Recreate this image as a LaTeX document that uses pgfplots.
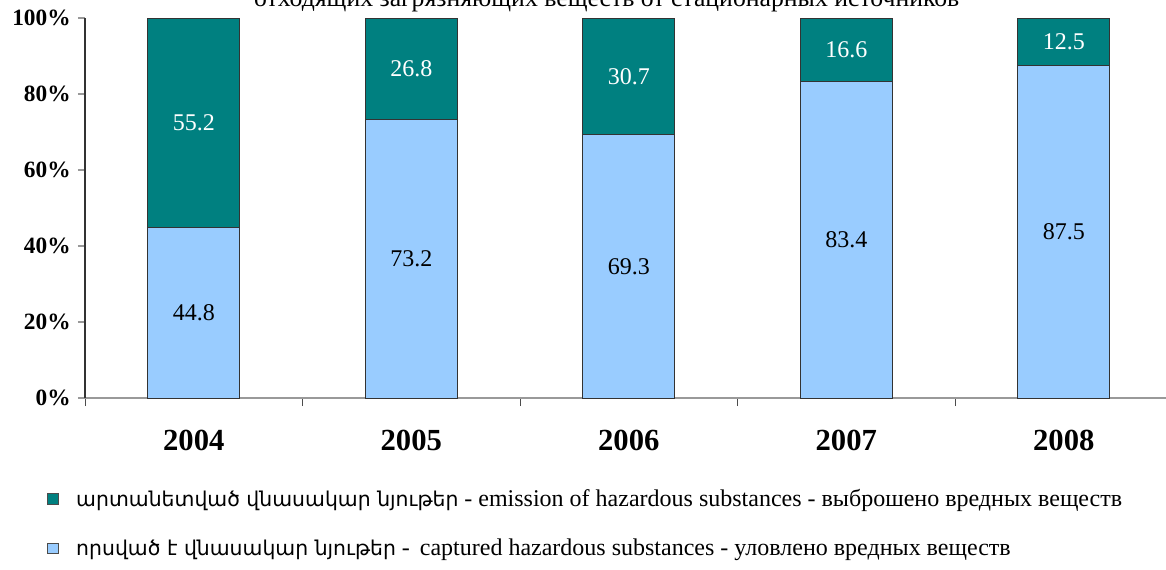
\documentclass[border=0pt]{standalone}
\usepackage{fontspec}
\setmainfont{Liberation Serif}
\newfontfamily\armfont{DejaVu Sans}[Scale=0.85]
\usepackage{pgfplots}
\usepackage{pgfplotstable}
\pgfplotsset{compat=1.18}
\definecolor{tealc}{HTML}{008080}
\definecolor{lblue}{HTML}{99CCFF}
% v = value, c = centre of the segment in the stack
\pgfplotstableread{
x v c
0 44.8 22.4
1 73.2 36.6
2 69.3 34.65
3 83.4 41.7
4 87.5 43.75
}\captured
\pgfplotstableread{
x v c
0 55.2 72.4
1 26.8 86.6
2 30.7 84.65
3 16.6 91.7
4 12.5 93.75
}\emission
\pgfplotsset{common/.style={
  at={(63.75pt,128.25pt)}, anchor=south west,
  scale only axis, width=810.75pt, height=285pt,
  xmin=-0.5, xmax=4.47, ymin=0, ymax=100}}
\begin{document}
\begin{tikzpicture}
\useasboundingbox (0pt,0pt) rectangle (874.5pt,426.75pt);
\begin{axis}[
  common,
  ybar stacked, bar width=69pt,
  axis x line=bottom, axis y line=left,
  axis line style={-},
  x axis line style={draw=gray!80, line width=1pt},
  y axis line style={draw=black!80, line width=0.8pt},
  xtick={0,1,2,3,4},
  xticklabels={2004,2005,2006,2007,2008},
  major x tick style={draw=none},
  minor xtick={-0.5,0.5,1.5,2.5,3.5},
  minor x tick style={draw=black!70, line width=0.6pt},
  minor tick length=6pt,
  tick align=outside,
  ytick={0,20,40,60,80,100},
  yticklabels={0\%,20\%,40\%,60\%,80\%,100\%},
  major y tick style={draw=gray!80, line width=0.8pt},
  major tick length=5.25pt,
  xticklabel style={font=\bfseries\fontsize{23}{23}\selectfont, yshift=-15pt},
  yticklabel style={font=\bfseries\fontsize{17.5}{17.5}\selectfont, xshift=-2pt},
  legend image code/.code={\draw[#1,draw=black!70,line width=0.6pt] (0pt,-4pt) rectangle (8pt,4pt);},
  reverse legend,
  legend style={at={(axis description cs:-0.035,-0.232)}, anchor=north west, draw=none, fill=none,
    font=\fontsize{18}{18}\selectfont, cells={anchor=west}, row sep=19pt, inner sep=0pt},
  clip=false,
]
\addplot[fill=lblue, draw=black!80, line width=0.6pt]
  table[x=x, y=v] {\captured};
\addlegendentry{\hspace{11pt}{\armfont որսված է վնասակար նյութեր} -\, captured hazardous substances - уловлено вредных веществ}
\addplot[fill=tealc, draw=black!80, line width=0.6pt]
  table[x=x, y=v] {\emission};
\addlegendentry{\hspace{11pt}{\armfont արտանետված վնասակար նյութեր} - emission of hazardous substances - выброшено вредных веществ}
\end{axis}
\begin{axis}[common, hide axis, clip=false,
  nodes near coords, point meta=explicit symbolic,
  every node near coord/.style={anchor=center, font=\fontsize{18}{18}\selectfont}]
\addplot[draw=none, mark=none, every node near coord/.append style={text=black}]
  table[x=x, y=c, meta=v] {\captured};
\addplot[draw=none, mark=none, every node near coord/.append style={text=white}]
  table[x=x, y=c, meta=v] {\emission};
\end{axis}
\node[anchor=base, font=\fontsize{19.3}{19.3}\selectfont] at (455pt,422pt) {отходящих загрязняющих веществ от стационарных источников};
\end{tikzpicture}
\end{document}
